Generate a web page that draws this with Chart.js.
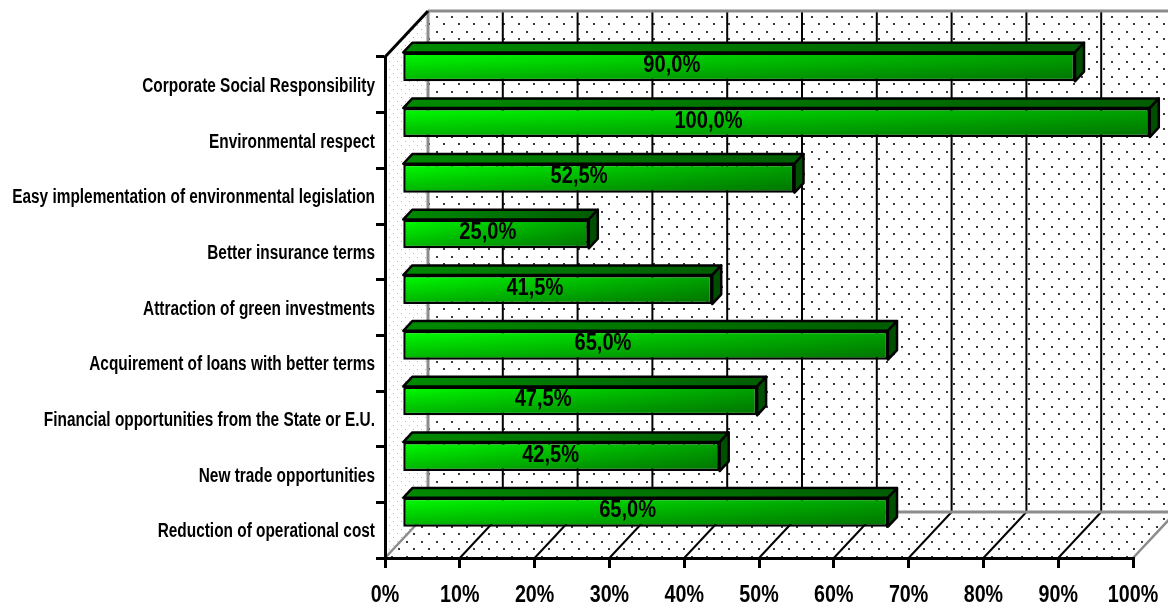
<!DOCTYPE html>
<html lang="en">
<head>
<meta charset="UTF-8">
<title>Benefits of environmental management</title>
<script src="https://cdn.jsdelivr.net/npm/chart.js@4"></script>
<style>
  html, body { margin: 0; padding: 0; background: #fff; }
  #wrap { width: 1168px; height: 608px; }
</style>
</head>
<body>
<div id="wrap"><canvas id="benefitsChart"></canvas></div>
<script>
// categories, top to bottom
const categories = [
    'Corporate Social Responsibility',
    'Environmental respect',
    'Easy implementation of environmental legislation',
    'Better insurance terms',
    'Attraction of green investments',
    'Acquirement of loans with better terms',
    'Financial opportunities from the State or E.U.',
    'New trade opportunities',
    'Reduction of operational cost'
];
const values = [90, 100, 52.5, 25, 41.5, 65, 47.5, 42.5, 65];
const valueLabels = ['90,0%', '100,0%', '52,5%', '25,0%', '41,5%', '65,0%', '47,5%', '42,5%', '65,0%'];
// where each value label sits along the axis (axis units)
const labelAnchor = [36.1, 41, 23.7, 11.5, 17.8, 26.9, 18.9, 19.9, 30.2];
const xTicks = [0, 10, 20, 30, 40, 50, 60, 70, 80, 90, 100];

// no narrow face installed, so Arial-metric bold squeezed sideways
const FONT = "'Liberation Sans', Arial, sans-serif";

// 3d box: depth offset of the back wall, bars sit between BAR_FRONT and BAR_BACK
const DEPTH = { dx: 43, dy: -46 };
const BAR_FRONT = 0.39;
const BAR_BACK = 0.6;

function makeDots(color, step, size) {
    const c = document.createElement('canvas');
    c.width = step; c.height = step;
    const g = c.getContext('2d');
    g.fillStyle = '#fff';
    g.fillRect(0, 0, step, step);
    g.fillStyle = color;
    const h = Math.floor(step / 2);
    g.fillRect(1, 1, size, size);
    g.fillRect(1 + h, 1 + h, size, size);
    return c;
}

function poly(ctx, pts) {
    ctx.beginPath();
    ctx.moveTo(pts[0][0], pts[0][1]);
    for (let i = 1; i < pts.length; i++) ctx.lineTo(pts[i][0], pts[i][1]);
    ctx.closePath();
}

function line(ctx, x0, y0, x1, y1, color, w) {
    ctx.beginPath();
    ctx.moveTo(x0, y0);
    ctx.lineTo(x1, y1);
    ctx.strokeStyle = color;
    ctx.lineWidth = w;
    ctx.stroke();
}

function squeezedText(ctx, text, x, y, size, sx, align) {
    ctx.save();
    ctx.translate(x, y);
    ctx.scale(sx, 1);
    ctx.font = 'bold ' + size + 'px ' + FONT;
    ctx.fillStyle = '#000';
    ctx.textAlign = align;
    ctx.textBaseline = 'alphabetic';
    ctx.fillText(text, 0, 0);
    ctx.restore();
}

// walls, floor and back gridlines
const wallsPlugin = {
    id: 'walls3d',
    beforeDraw(chart) {
        const { ctx, chartArea: a, scales: { x } } = chart;
        const dx = DEPTH.dx, dy = DEPTH.dy;
        ctx.save();

        const dark = ctx.createPattern(makeDots('#3a3a3a', 15, 2), 'repeat');
        const light = ctx.createPattern(makeDots('#b8b8b8', 8, 1), 'repeat');

        // back wall
        ctx.fillStyle = dark;
        ctx.fillRect(a.left + dx, a.top + dy, a.width, a.height);
        // left wall
        poly(ctx, [[a.left, a.top], [a.left + dx, a.top + dy], [a.left + dx, a.bottom + dy], [a.left, a.bottom]]);
        ctx.fillStyle = light;
        ctx.fill();
        // floor
        poly(ctx, [[a.left, a.bottom], [a.right, a.bottom], [a.right + dx, a.bottom + dy], [a.left + dx, a.bottom + dy]]);
        ctx.fillStyle = dark;
        ctx.fill();

        xTicks.forEach((t, i) => {
            const px = x.getPixelForValue(t);
            if (i > 0) line(ctx, px + dx, a.top + dy, px + dx, a.bottom + dy, '#000', 2);
            const edge = i === 0 || i === xTicks.length - 1;
            line(ctx, px, a.bottom, px + dx, a.bottom + dy, edge ? '#8c8c8c' : '#000', edge ? 2.5 : 2);
        });

        // wall edges
        line(ctx, a.left + dx, a.top + dy, a.left + dx, a.bottom + dy, '#8c8c8c', 3);
        line(ctx, a.left + dx, a.top + dy, a.right + dx, a.top + dy, '#8c8c8c', 3);
        line(ctx, a.left + dx, a.bottom + dy, a.right + dx, a.bottom + dy, '#8c8c8c', 3);
        line(ctx, a.left, a.top, a.left + dx, a.top + dy, '#000', 3);
        ctx.restore();
    }
};

// push the bars back into the box and give them top and side faces
const barsPlugin = {
    id: 'bars3d',
    beforeDatasetsDraw(chart) {
        chart.ctx.save();
        chart.ctx.translate(DEPTH.dx * BAR_FRONT, DEPTH.dy * BAR_FRONT);
    },
    afterDatasetsDraw(chart) {
        const { ctx, scales: { x } } = chart;
        const bdx = DEPTH.dx * (BAR_BACK - BAR_FRONT);
        const bdy = DEPTH.dy * (BAR_BACK - BAR_FRONT);
        const bw = 2.5;
        ctx.lineJoin = 'round';
        chart.getDatasetMeta(0).data.forEach((bar, i) => {
            const p = bar.getProps(['x', 'y', 'base', 'height'], true);
            const l = p.base, r = p.x, t = p.y - p.height / 2, b = p.y + p.height / 2;

            // shading down the front face
            const sh = ctx.createLinearGradient(0, t, 0, b);
            sh.addColorStop(0, 'rgba(0,0,0,0)');
            sh.addColorStop(1, 'rgba(0,0,0,0.3)');
            ctx.fillStyle = sh;
            ctx.fillRect(l + bw, t + bw, r - l - 2 * bw, b - t - 2 * bw);

            // top face
            poly(ctx, [[l, t], [l + bdx, t + bdy], [r + bdx, t + bdy], [r, t]]);
            const tg = ctx.createLinearGradient(l, 0, r, 0);
            tg.addColorStop(0, '#008a00');
            tg.addColorStop(1, '#005e00');
            ctx.fillStyle = tg;
            ctx.fill();
            ctx.strokeStyle = '#000';
            ctx.lineWidth = bw;
            ctx.stroke();

            // side face
            poly(ctx, [[r, t], [r + bdx, t + bdy], [r + bdx, b + bdy], [r, b]]);
            ctx.fillStyle = '#004e00';
            ctx.fill();
            ctx.stroke();

            // value label
            squeezedText(ctx, valueLabels[i], x.getPixelForValue(labelAnchor[i]), p.y + 5, 24.5, 0.82, 'center');
        });
        ctx.restore();
    },
    afterDraw(chart) {
        const { ctx, scales: { x, y } } = chart;
        categories.forEach((c, i) => {
            squeezedText(ctx, c, y.left + y.width - 10, y.getPixelForTick(i) + 7, 20, 0.77, 'right');
        });
        xTicks.forEach(v => {
            squeezedText(ctx, v + '%', x.getPixelForValue(v), x.top + 44, 24, 0.82, 'center');
        });
    }
};

const ctx = document.getElementById('benefitsChart');
new Chart(ctx, {
    type: 'bar',
    data: {
        labels: categories,
        datasets: [{
            data: values,
            backgroundColor(c) {
                const ch = c.chart;
                if (!ch.chartArea) return '#00d000';
                const xs = ch.scales.x;
                const g = ch.ctx.createLinearGradient(xs.getPixelForValue(0), 0, xs.getPixelForValue(c.raw), 0);
                g.addColorStop(0, '#00ff00');
                g.addColorStop(1, '#00a400');
                return g;
            },
            borderColor: '#000',
            borderWidth: 2.5,
            borderSkipped: false,
            barPercentage: 0.52,
            categoryPercentage: 1,
            clip: false
        }]
    },
    options: {
        indexAxis: 'y',
        responsive: true,
        maintainAspectRatio: false,
        animation: false,
        layout: { padding: { top: 57, right: 35, bottom: 0, left: 0 } },
        plugins: {
            legend: { display: false },
            tooltip: { enabled: false }
        },
        scales: {
            x: {
                min: 0,
                max: 100,
                afterFit(s) { s.height = 50; },
                afterBuildTicks(s) { s.ticks = xTicks.map(v => ({ value: v })); },
                ticks: { display: false },
                grid: { drawOnChartArea: false, color: '#000', lineWidth: 3, tickLength: 10 },
                border: { color: '#000', width: 3 }
            },
            y: {
                afterFit(s) { s.width = 385; },
                ticks: { display: false },
                grid: { offset: true, drawOnChartArea: false, color: '#000', lineWidth: 3, tickLength: 9 },
                border: { color: '#000', width: 3 }
            }
        }
    },
    plugins: [wallsPlugin, barsPlugin]
});
</script>
</body>
</html>
